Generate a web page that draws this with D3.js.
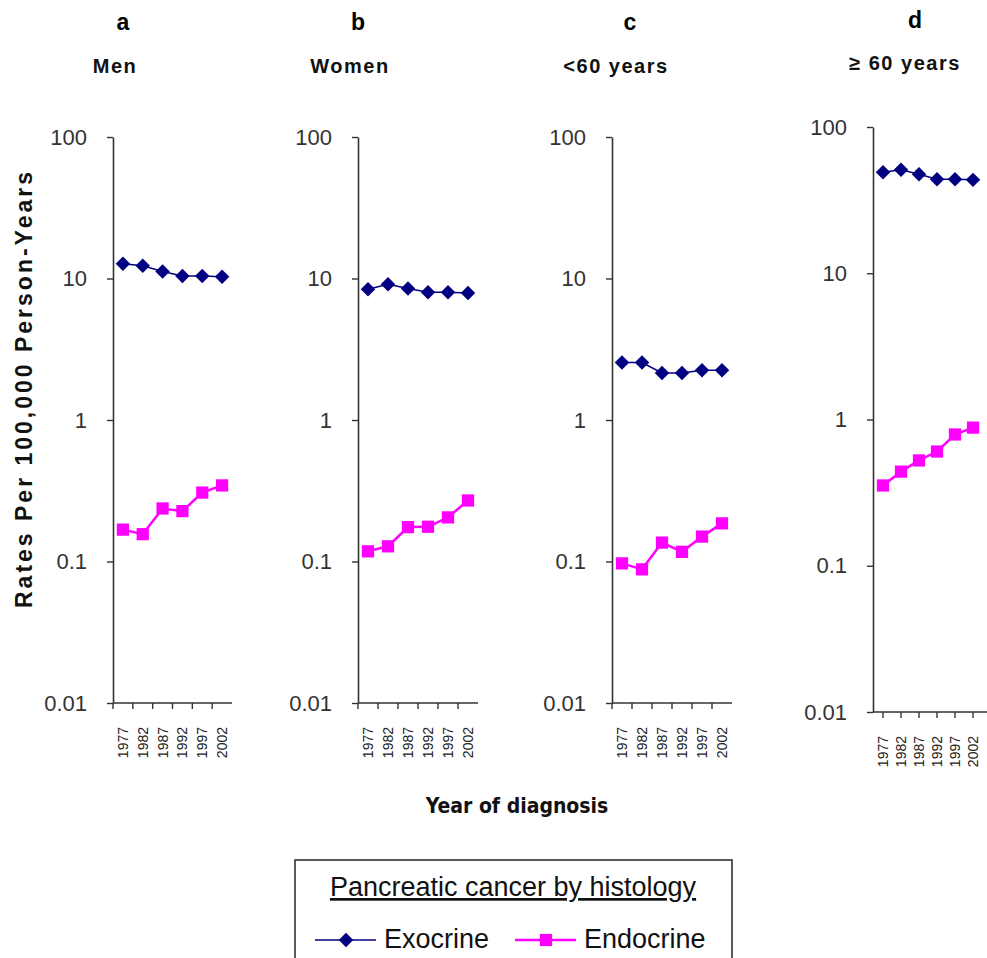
<!DOCTYPE html>
<html>
<head>
<meta charset="utf-8">
<script src="https://cdn.jsdelivr.net/npm/d3@7/dist/d3.min.js"></script>
<style>
  body { margin: 0; background: #fff; }
  text { font-family: Arial, "Liberation Sans", sans-serif; }
</style>
</head>
<body>
<script>

// years on the x axis of every panel
var years = [1977, 1982, 1987, 1992, 1997, 2002];

// panel letters and titles
var panelLetters = ["a", "b", "c", "d"];
var panelTitles = ["Men", "Women", "<60 years", "\u2265 60 years"];

// rates per 100,000 person-years
var exocrineMen = [12.7, 12.3, 11.2, 10.4, 10.4, 10.3];
var endocrineMen = [0.168, 0.156, 0.237, 0.227, 0.307, 0.345];
var exocrineWomen = [8.4, 9.1, 8.5, 8.0, 8.0, 7.9];
var endocrineWomen = [0.118, 0.128, 0.175, 0.176, 0.205, 0.27];
var exocrineUnder60 = [2.55, 2.55, 2.15, 2.15, 2.25, 2.25];
var endocrineUnder60 = [0.097, 0.088, 0.136, 0.117, 0.15, 0.186];
var exocrineOver60 = [49, 51, 47.5, 44, 44, 43.5];
var endocrineOver60 = [0.354, 0.44, 0.525, 0.604, 0.79, 0.88];

var yTicks = [0.01, 0.1, 1, 10, 100];

var seriesNames = ["Exocrine", "Endocrine"];
var seriesColors = ["#000080", "#ff00ff"];

var exoSeries = [exocrineMen, exocrineWomen, exocrineUnder60, exocrineOver60];
var endoSeries = [endocrineMen, endocrineWomen, endocrineUnder60, endocrineOver60];

// layout of each panel (pixels)
var layout = [
    { x0: 113, x1: 232, top: 137, bottom: 703, letterX: 123, letterY: 30, titleX: 115, titleY: 73, band: true },
    { x0: 358, x1: 478, top: 137, bottom: 703, letterX: 358, letterY: 30, titleX: 350, titleY: 73, band: true },
    { x0: 612, x1: 732, top: 137, bottom: 703, letterX: 630, letterY: 30, titleX: 616, titleY: 73, band: true },
    { x0: 873, x1: 992, top: 127, bottom: 712, letterX: 915, letterY: 28, titleX: 905, titleY: 70, band: false }
];

var svg = d3.select("body").append("svg")
    .attr("width", 987)
    .attr("height", 958);

var diamond = d3.symbol().type(d3.symbolSquare).size(105);
var square = d3.symbol().type(d3.symbolSquare).size(150);

layout.forEach(function (p, k) {
    var g = svg.append("g");

    var y = d3.scaleLog()
        .domain([0.01, 100])
        .range([p.bottom, p.top]);

    // band scale for a-c (ticks between years), point scale for d (ticks under years)
    var x, xc;
    if (p.band) {
        x = d3.scaleBand().domain(years).range([p.x0, p.x1]);
        xc = function (d) { return x(d) + x.bandwidth() / 2; };
    } else {
        x = d3.scalePoint().domain(years).range([p.x0 + 10, p.x0 + 100]);
        xc = function (d) { return x(d); };
    }

    // y axis
    var yAxis = d3.axisLeft(y)
        .tickValues(yTicks)
        .tickSize(6)
        .tickSizeOuter(0)
        .tickPadding(20)
        .tickFormat(d3.format("~g"));

    var ya = g.append("g")
        .attr("transform", "translate(" + p.x0 + ",0)")
        .call(yAxis);
    ya.select(".domain").attr("stroke", "#333").attr("stroke-width", 1.6);
    ya.selectAll(".tick line").attr("stroke", "#333").attr("stroke-width", 1.4);
    ya.selectAll(".tick text")
        .style("font-size", "22px")
        .attr("fill", "#333");

    // x axis line
    g.append("line")
        .attr("x1", p.x0).attr("x2", p.x1)
        .attr("y1", p.bottom).attr("y2", p.bottom)
        .attr("stroke", "#333").attr("stroke-width", 1.6);

    // x tick marks
    var tickPos = p.band ? years.map(function (d) { return x(d); }) : years.map(xc);
    g.selectAll(".xtick")
        .data(tickPos)
        .enter().append("line")
        .attr("class", "xtick")
        .attr("x1", function (d) { return d; })
        .attr("x2", function (d) { return d; })
        .attr("y1", p.bottom)
        .attr("y2", p.bottom + 6)
        .attr("stroke", "#333").attr("stroke-width", 1.4);

    // x tick labels (rotated)
    g.selectAll(".xlab")
        .data(years)
        .enter().append("text")
        .attr("class", "xlab")
        .attr("transform", function (d) {
            return "translate(" + xc(d) + "," + (p.bottom + 24) + ") rotate(-90)";
        })
        .attr("text-anchor", "end")
        .attr("dy", "0.36em")
        .style("font-size", "14px")
        .attr("fill", "#222")
        .text(function (d) { return d; });

    // lines and markers
    var line = d3.line()
        .x(function (d, i) { return xc(years[i]); })
        .y(function (d) { return y(d); });

    g.append("path")
        .datum(exoSeries[k])
        .attr("d", line)
        .attr("fill", "none")
        .attr("stroke", seriesColors[0])
        .attr("stroke-width", 1.5);

    g.append("path")
        .datum(endoSeries[k])
        .attr("d", line)
        .attr("fill", "none")
        .attr("stroke", seriesColors[1])
        .attr("stroke-width", 2.5);

    g.selectAll(".exo")
        .data(exoSeries[k])
        .enter().append("path")
        .attr("class", "exo")
        .attr("d", diamond)
        .attr("transform", function (d, i) {
            return "translate(" + xc(years[i]) + "," + y(d) + ") rotate(45)";
        })
        .attr("fill", seriesColors[0]);

    g.selectAll(".endo")
        .data(endoSeries[k])
        .enter().append("path")
        .attr("class", "endo")
        .attr("d", square)
        .attr("transform", function (d, i) {
            return "translate(" + xc(years[i]) + "," + y(d) + ")";
        })
        .attr("fill", seriesColors[1]);

    // panel letter and title
    g.append("text")
        .attr("x", p.letterX).attr("y", p.letterY)
        .attr("text-anchor", "middle")
        .style("font-size", "23px")
        .style("font-weight", "bold")
        .text(panelLetters[k]);

    g.append("text")
        .attr("x", p.titleX).attr("y", p.titleY)
        .attr("text-anchor", "middle")
        .style("font-size", "20px")
        .style("font-weight", "bold")
        .style("letter-spacing", "1.5px")
        .attr("fill", "#111")
        .text(panelTitles[k]);
});

// y axis title
svg.append("text")
    .attr("transform", "translate(32,390) rotate(-90)")
    .attr("text-anchor", "middle")
    .attr("textLength", 436)
    .style("font-size", "23px")
    .style("font-weight", "bold")
    .attr("fill", "#111")
    .text("Rates Per 100,000 Person-Years");

// x axis title
svg.append("text")
    .attr("x", 517).attr("y", 813)
    .attr("text-anchor", "middle")
    .style("font-family", "'Liberation Sans Narrow', 'Arial Narrow', 'DejaVu Sans Condensed', sans-serif")
    .style("font-size", "21px")
    .style("font-weight", "bold")
    .attr("fill", "#111")
    .text("Year of diagnosis");

// legend
var legend = svg.append("g");
legend.append("rect")
    .attr("x", 295).attr("y", 860)
    .attr("width", 437).attr("height", 120)
    .attr("fill", "#fff")
    .attr("stroke", "#333").attr("stroke-width", 1.6);

legend.append("text")
    .attr("x", 513).attr("y", 896)
    .attr("text-anchor", "middle")
    .style("font-size", "27px")
    .style("text-decoration", "underline")
    .attr("fill", "#111")
    .text("Pancreatic cancer by histology");

var legendX = [315, 515];
seriesNames.forEach(function (name, i) {
    var lx = legendX[i];
    legend.append("line")
        .attr("x1", lx).attr("x2", lx + 61)
        .attr("y1", 940).attr("y2", 940)
        .attr("stroke", seriesColors[i])
        .attr("stroke-width", i === 0 ? 1.5 : 2.5);
    legend.append("path")
        .attr("d", i === 0 ? diamond : square)
        .attr("transform", "translate(" + (lx + 31) + ",940)" + (i === 0 ? " rotate(45)" : ""))
        .attr("fill", seriesColors[i]);
    legend.append("text")
        .attr("x", lx + 69).attr("y", 948)
        .style("font-size", "27px")
        .attr("fill", "#111")
        .text(name);
});

</script>
</body>
</html>
